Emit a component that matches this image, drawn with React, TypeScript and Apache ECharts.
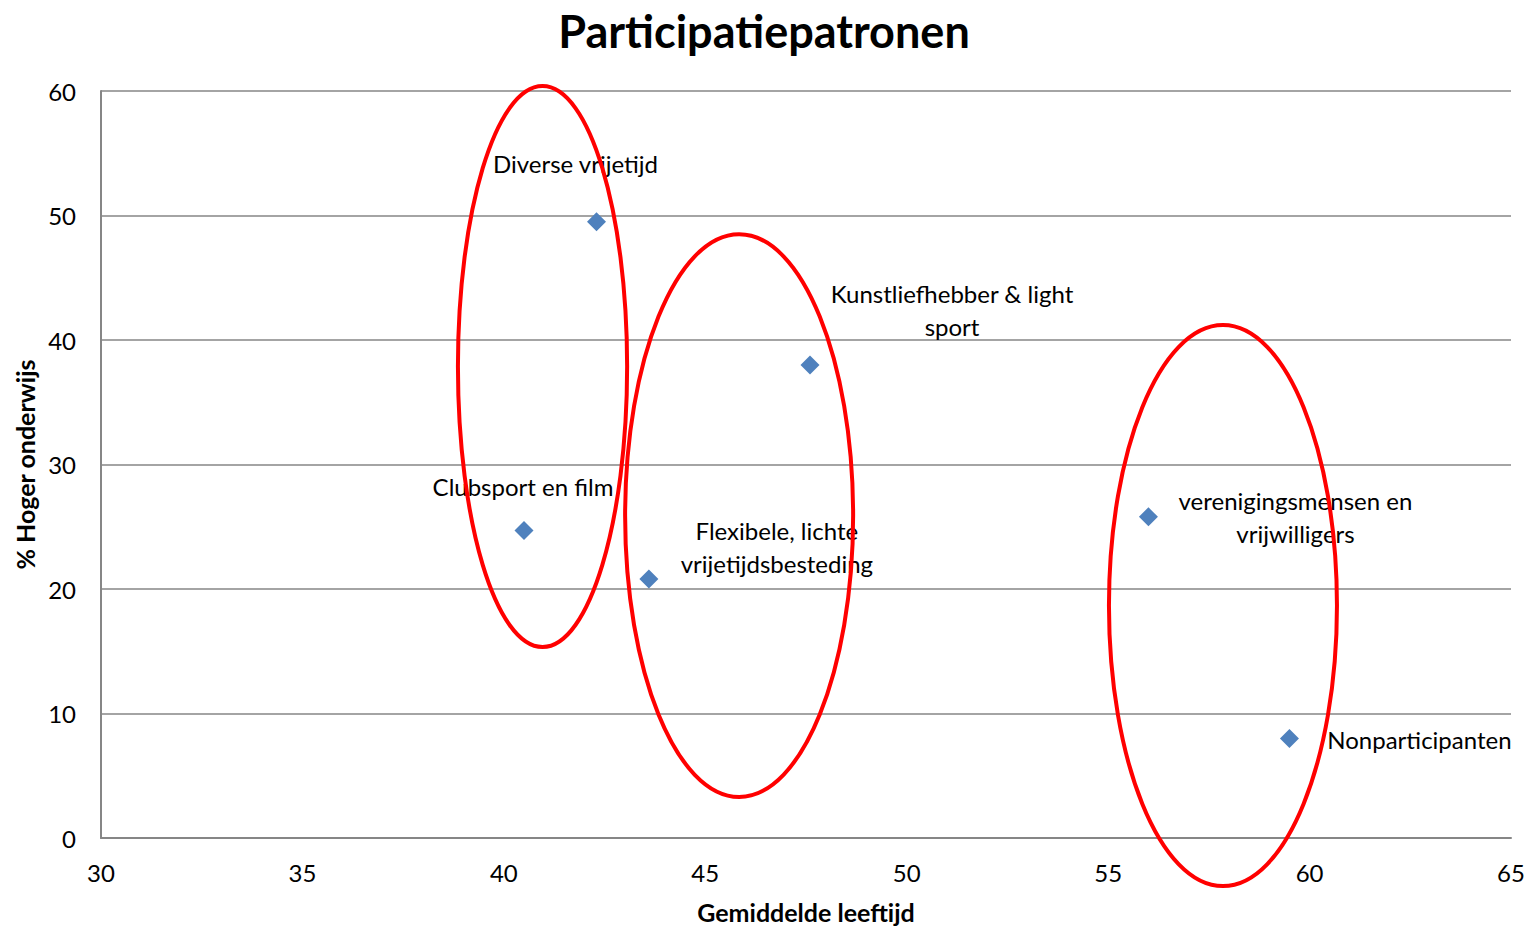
import React, { useEffect, useRef } from "react";
import * as echarts from "echarts";

const pointNames = [
  "Diverse vrijetijd",
  "Clubsport en film",
  "Flexibele, lichte\nvrijetijdsbesteding",
  "Kunstliefhebber & light\nsport",
  "verenigingsmensen en\nvrijwilligers",
  "Nonparticipanten",
];
const ageValues = [42.3, 40.5, 43.6, 47.6, 56.0, 59.5];
const eduValues = [49.5, 24.7, 20.8, 38.0, 25.8, 8.0];

// ellipses: centre x, centre y, radius x, radius y (in data units)
const ellipseCx = [40.96, 45.84, 57.85];
const ellipseCy = [37.87, 25.9, 18.67];
const ellipseRx = [2.1, 2.83, 2.83];
const ellipseRy = [22.53, 22.6, 22.53];

const xTicks = { min: 30, max: 65, interval: 5 };
const yTicks = { min: 0, max: 60, interval: 10 };

const labelOffsets: [number, number][] = [
  [-21, -58],
  [-1, -44],
  [128, -32],
  [142, -55],
  [147, 0],
  [130, 1],
];

const FONT = "Lato";

export default function App() {
  const ref = useRef<HTMLDivElement>(null);
  useEffect(() => {
    document.body.style.margin = "0";
    const chart = echarts.init(ref.current!, null, { renderer: "svg" });
    const points = pointNames.map((n, i) => ({
      name: n,
      value: [ageValues[i], eduValues[i]],
      label: {
        show: true,
        formatter: n,
        position: "inside",
        offset: labelOffsets[i],
        align: "center",
        verticalAlign: "middle",
        color: "#000",
        opacity: 1,
        fontFamily: FONT,
        fontSize: 24,
        lineHeight: 33,
      },
    }));
    const ellipses = ellipseCx.map((cx, i) => [cx, ellipseCy[i], ellipseRx[i], ellipseRy[i]]);
    chart.setOption({
      animation: false,
      backgroundColor: "#fff",
      title: {
        text: "Participatiepatronen",
        left: "center",
        top: 3,
        textStyle: { fontFamily: FONT, fontSize: 45, fontWeight: "bold", color: "#000" },
      },
      grid: { left: 101, right: 17, top: 91, bottom: 89, containLabel: false, outerBoundsMode: "none" },
      xAxis: {
        type: "value",
        min: xTicks.min,
        max: xTicks.max,
        interval: xTicks.interval,
        name: "Gemiddelde leeftijd",
        nameLocation: "middle",
        nameGap: 61,
        nameTextStyle: { fontFamily: FONT, fontSize: 25, fontWeight: "bold", color: "#000" },
        axisLine: { show: true, lineStyle: { color: "#868686", width: 2 } },
        axisTick: { show: false },
        splitLine: { show: false },
        axisLabel: { fontFamily: FONT, fontSize: 24, color: "#000", margin: 22 },
      },
      yAxis: {
        type: "value",
        min: yTicks.min,
        max: yTicks.max,
        interval: yTicks.interval,
        name: "% Hoger onderwijs",
        nameLocation: "middle",
        nameRotate: 90,
        nameGap: 62,
        nameTextStyle: { fontFamily: FONT, fontSize: 25, fontWeight: "bold", color: "#000" },
        axisLine: { show: true, lineStyle: { color: "#868686", width: 2 } },
        axisTick: { show: false },
        splitLine: { show: true, lineStyle: { color: "#868686", width: 1.5 } },
        axisLabel: { fontFamily: FONT, fontSize: 24, color: "#000", margin: 25 },
      },
      series: [
        {
          type: "scatter",
          symbol: "diamond",
          symbolSize: 19,
          itemStyle: { color: "#4F81BD", opacity: 1 },
          data: points,
          z: 3,
        },
        {
          type: "custom",
          clip: false,
          z: 4,
          data: ellipses,
          renderItem: (params: any, api: any) => {
            const c = api.coord([api.value(0), api.value(1)]);
            const s = api.size([api.value(2), api.value(3)]);
            return {
              type: "ellipse",
              shape: { cx: c[0], cy: c[1], rx: s[0], ry: s[1] },
              style: { fill: "none", stroke: "#FF0000", lineWidth: 4 },
            };
          },
        },
      ],
    });
    return () => chart.dispose();
  }, []);
  return <div ref={ref} style={{ width: 1528, height: 927 }} />;
}
